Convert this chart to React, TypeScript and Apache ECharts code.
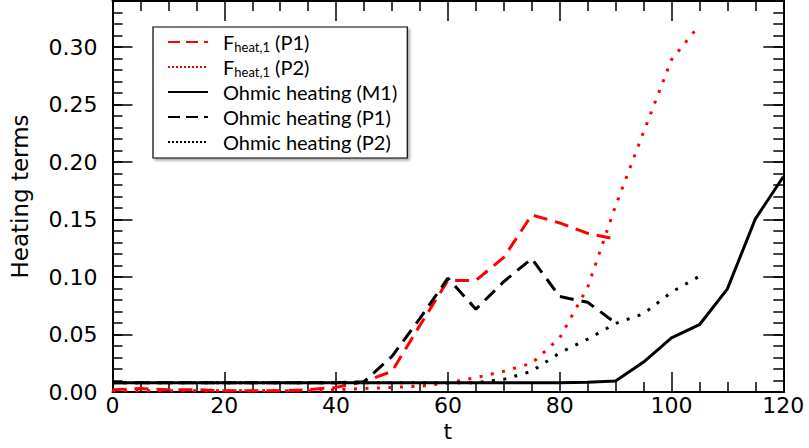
import React, { useEffect, useRef } from "react";
import * as echarts from "echarts";

const tValues = [0, 5, 10, 15, 20, 25, 30, 35, 40, 45, 50, 55, 60, 65, 70, 75, 80, 85, 90, 95, 100, 105, 110, 115, 120];

const seriesNames = ["Fheat,1 (P1)", "Fheat,1 (P2)", "Ohmic heating (M1)", "Ohmic heating (P1)", "Ohmic heating (P2)"];

// t = 0..90
const fheatP1 = [0.002, 0.003, 0.002, 0.002, 0.001, 0.001, 0.001, 0.002, 0.004, 0.009, 0.018, 0.058, 0.097, 0.097, 0.117, 0.154, 0.147, 0.138, 0.133];
// t = 0..105
const fheatP2 = [0.001, 0.001, 0.001, 0.001, 0.001, 0.001, 0.001, 0.001, 0.002, 0.003, 0.004, 0.005, 0.008, 0.0125, 0.018, 0.025, 0.047, 0.091, 0.162, 0.226, 0.289, 0.319];
// t = 0..120
const ohmicM1 = [0.008, 0.008, 0.008, 0.008, 0.008, 0.008, 0.008, 0.008, 0.008, 0.008, 0.008, 0.008, 0.008, 0.008, 0.008, 0.008, 0.008, 0.0085, 0.0095, 0.026, 0.047, 0.0585, 0.0897, 0.1505, 0.1872];
// t = 0..90
const ohmicP1 = [0.008, 0.008, 0.008, 0.008, 0.008, 0.008, 0.008, 0.008, 0.008, 0.009, 0.031, 0.064, 0.099, 0.072, 0.096, 0.116, 0.083, 0.078, 0.060];
// t = 0..105
const ohmicP2 = [0.008, 0.008, 0.008, 0.008, 0.008, 0.008, 0.008, 0.008, 0.008, 0.008, 0.008, 0.008, 0.008, 0.008, 0.011, 0.018, 0.034, 0.046, 0.0596, 0.068, 0.0868, 0.1007];

const pairs = (vals: number[]) => vals.map((v, i) => [tValues[i], v]);

const BLACK = "#000000";
const RED = "#ff0000";
const TICK_FONT = "DejaVu Sans";

function makeX(position: "bottom" | "top", labels: boolean) {
  return {
    type: "value",
    position,
    min: 0,
    max: 120,
    interval: 20,
    axisLine: { show: true, onZero: false, lineStyle: { color: BLACK, width: 2 } },
    axisTick: { show: true, inside: true, length: 20, lineStyle: { color: BLACK, width: 1.5 } },
    minorTick: { show: true, splitNumber: 4, length: 10, lineStyle: { color: BLACK, width: 1.5 } },
    splitLine: { show: false },
    minorSplitLine: { show: false },
    axisLabel: { show: labels, color: BLACK, fontFamily: TICK_FONT, fontSize: 22, margin: 2 },
    ...(labels
      ? {
          name: "t",
          nameLocation: "middle",
          nameGap: 28,
          nameTextStyle: { color: BLACK, fontFamily: TICK_FONT, fontSize: 22 },
        }
      : {}),
  };
}

function makeY(position: "left" | "right", major: boolean, labels: boolean) {
  return {
    type: "value",
    position,
    min: 0,
    max: 0.34,
    interval: major ? 0.05 : 0.01,
    axisLine: { show: true, onZero: false, lineStyle: { color: BLACK, width: 2 } },
    axisTick: { show: true, inside: true, length: major ? 20 : 10, lineStyle: { color: BLACK, width: 1.5 } },
    splitLine: { show: false },
    axisLabel: {
      show: labels,
      showMaxLabel: false,
      color: BLACK,
      fontFamily: TICK_FONT,
      fontSize: 22,
      margin: 15,
      formatter: (v: number) => v.toFixed(2),
    },
    ...(labels
      ? {
          name: "Heating terms",
          nameLocation: "middle",
          nameGap: 81,
          nameTextStyle: { color: BLACK, fontFamily: TICK_FONT, fontSize: 23 },
        }
      : {}),
  };
}

export default function App() {
  const ref = useRef<HTMLDivElement>(null);
  useEffect(() => {
    if (!ref.current) return;
    const chart = echarts.init(ref.current, null, { renderer: "svg" });
    const dashed = [14, 8];
    const dotted = [3, 8.5];
    chart.setOption({
      animation: false,
      backgroundColor: "#ffffff",
      grid: { left: 112.5, right: 25.7, top: 1, bottom: 56, containLabel: false },
      xAxis: [makeX("bottom", true), makeX("top", false)],
      yAxis: [makeY("left", true, true), makeY("left", false, false), makeY("right", true, false), makeY("right", false, false)],
      legend: {
        show: true,
        orient: "vertical",
        left: 153,
        top: 27,
        padding: [4, 10, 5, 14],
        itemGap: 3,
        itemWidth: 40,
        itemHeight: 14,
        backgroundColor: "#ffffff",
        borderColor: BLACK,
        borderWidth: 1.2,
        borderRadius: 0,
        shadowColor: "rgba(0,0,0,0.35)",
        shadowBlur: 3,
        shadowOffsetX: 2,
        shadowOffsetY: 2,
        itemStyle: { opacity: 0 },
        data: [
          { name: seriesNames[0], lineStyle: { type: [12, 6] } },
          { name: seriesNames[1], lineStyle: { type: [2, 2] } },
          { name: seriesNames[2] },
          { name: seriesNames[3], lineStyle: { type: [12, 6] } },
          { name: seriesNames[4], lineStyle: { type: [2, 2] } },
        ],
        formatter: (name: string) => {
          if (name.startsWith("Fheat,1")) {
            return "{n|F}{s|heat,1}{n|" + name.slice(7) + "}";
          }
          return "{n|" + name + "}";
        },
        textStyle: {
          color: BLACK,
          fontFamily: "Lato",
          fontSize: 20,
          lineHeight: 22,
          padding: [0, 0, 0, 10],
          rich: {
            n: { color: BLACK, fontFamily: "Lato", fontSize: 20, lineHeight: 22 },
            s: { color: BLACK, fontFamily: "Lato", fontSize: 13, lineHeight: 8, verticalAlign: "bottom" },
          },
        },
      },
      series: [
        {
          name: seriesNames[0],
          type: "line",
          data: pairs(fheatP1),
          symbol: "none",
          lineStyle: { color: RED, width: 3, type: dashed, cap: "butt" },
          itemStyle: { color: RED },
        },
        {
          name: seriesNames[1],
          type: "line",
          data: pairs(fheatP2),
          symbol: "none",
          lineStyle: { color: RED, width: 3, type: dotted, cap: "butt" },
          itemStyle: { color: RED },
        },
        {
          name: seriesNames[2],
          type: "line",
          data: pairs(ohmicM1),
          symbol: "none",
          lineStyle: { color: BLACK, width: 3, type: "solid" },
          itemStyle: { color: BLACK },
        },
        {
          name: seriesNames[3],
          type: "line",
          data: pairs(ohmicP1),
          symbol: "none",
          lineStyle: { color: BLACK, width: 3, type: dashed, cap: "butt" },
          itemStyle: { color: BLACK },
        },
        {
          name: seriesNames[4],
          type: "line",
          data: pairs(ohmicP2),
          symbol: "none",
          lineStyle: { color: BLACK, width: 3, type: dotted, cap: "butt" },
          itemStyle: { color: BLACK },
        },
      ],
    });
    return () => chart.dispose();
  }, []);
  return <div ref={ref} style={{ width: 809, height: 448, position: "fixed", left: 0, top: 0 }} />;
}
